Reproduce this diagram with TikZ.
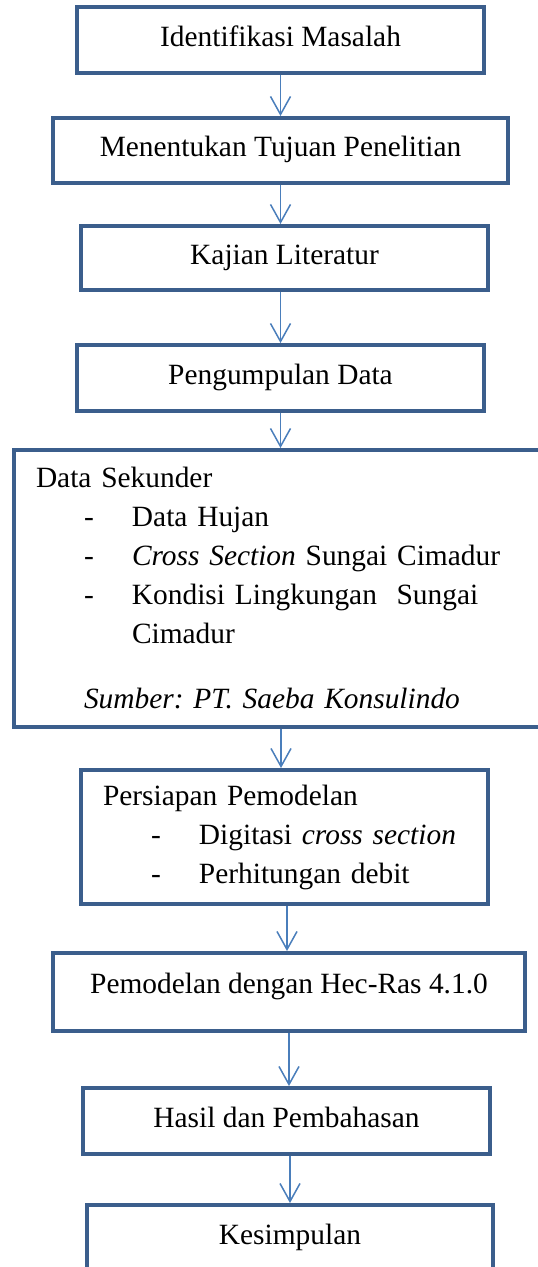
\documentclass[tikz,border=0pt]{standalone}
\usepackage{fontspec}
\setmainfont{Liberation Serif}
\usetikzlibrary{arrows.meta}
\definecolor{boxblue}{HTML}{3B5E8C}
\definecolor{arrowblue}{HTML}{4A7EBB}
\newcommand{\dashitem}[1]{\hspace*{24pt}\makebox[24pt][l]{-}#1}
\frenchspacing

\begin{document}
\begin{tikzpicture}[x=0.5pt, y=-0.5pt,
    every node/.style={font=\fontsize{14.7}{19.5}\selectfont},
    box/.style={draw=boxblue, line width=2pt, minimum width=203.5pt, minimum height=33pt,
      text height=10.25pt, text depth=4pt, inner sep=0pt},
    listbox/.style={draw=boxblue, line width=2pt, anchor=west, align=left,
      inner xsep=11pt, inner ysep=0pt},
    flow/.style={draw=arrowblue, line width=0.75pt, -{Straight Barb[length=9pt, width=10pt]}}]
    \path [use as bounding box, fill=white] (0, 0) rectangle (537, 1267);
    \node [box] (b1) at (280.5, 40.5) {Identifikasi Masalah};
    \node [box, minimum width=227.5pt, minimum height=32.5pt] (b2) at (280.5, 150.5) {Menentukan Tujuan Penelitian};
    \node [box, minimum height=32pt] (b3) at (284.5, 258) {Kajian Literatur};
    \node [box] (b4) at (280.5, 378) {Pengumpulan Data};
    \node [listbox, text width=260pt, minimum height=138.5pt] (b5) at (12, 588.5)
      {Data Sekunder\\
       \dashitem{Data Hujan}\\
       \dashitem{\textit{Cross Section} Sungai Cimadur}\\
       \dashitem{Kondisi Lingkungan\ \ Sungai}\\
       \hspace*{48pt}Cimadur\\[13pt]
       \hspace*{24pt}\textit{Sumber: PT. Saeba Konsulindo}};
    \node [listbox, text width=181.5pt, minimum height=67pt] (b6) at (79, 837)
      {Persiapan Pemodelan\\
       \dashitem{Digitasi \textit{cross section}}\\
       \dashitem{Perhitungan debit}};
    \node [box, minimum width=236pt, minimum height=39pt, text depth=9pt] (b7) at (289, 992) {Pemodelan dengan Hec-Ras 4.1.0};
    \node [box] (b8) at (286.5, 1121) {Hasil dan Pembahasan};
    \node [box, minimum width=203pt] (b9) at (290, 1238) {Kesimpulan};
    \draw [flow] (b1) -- (b2);
    \draw [flow] (b2.south) -- (b2.south |- b3.north);
    \draw [flow] (b3.south -| b4.north) -- (b4.north);
    \draw [flow] (b4.south) -- (b4.south |- b5.north);
    \draw [flow] ([xshift=-1.75pt]b6.north |- b5.south) -- ([xshift=-1.75pt]b6.north);
    \draw [flow] ([xshift=1.25pt]b6.south) -- ([xshift=1.25pt]b6.south |- b7.north);
    \draw [flow] (b7.south) -- (b7.south |- b8.north);
    \draw [flow] (b8.south -| b9.north) -- (b9.north);
  \end{tikzpicture}
\end{document}
